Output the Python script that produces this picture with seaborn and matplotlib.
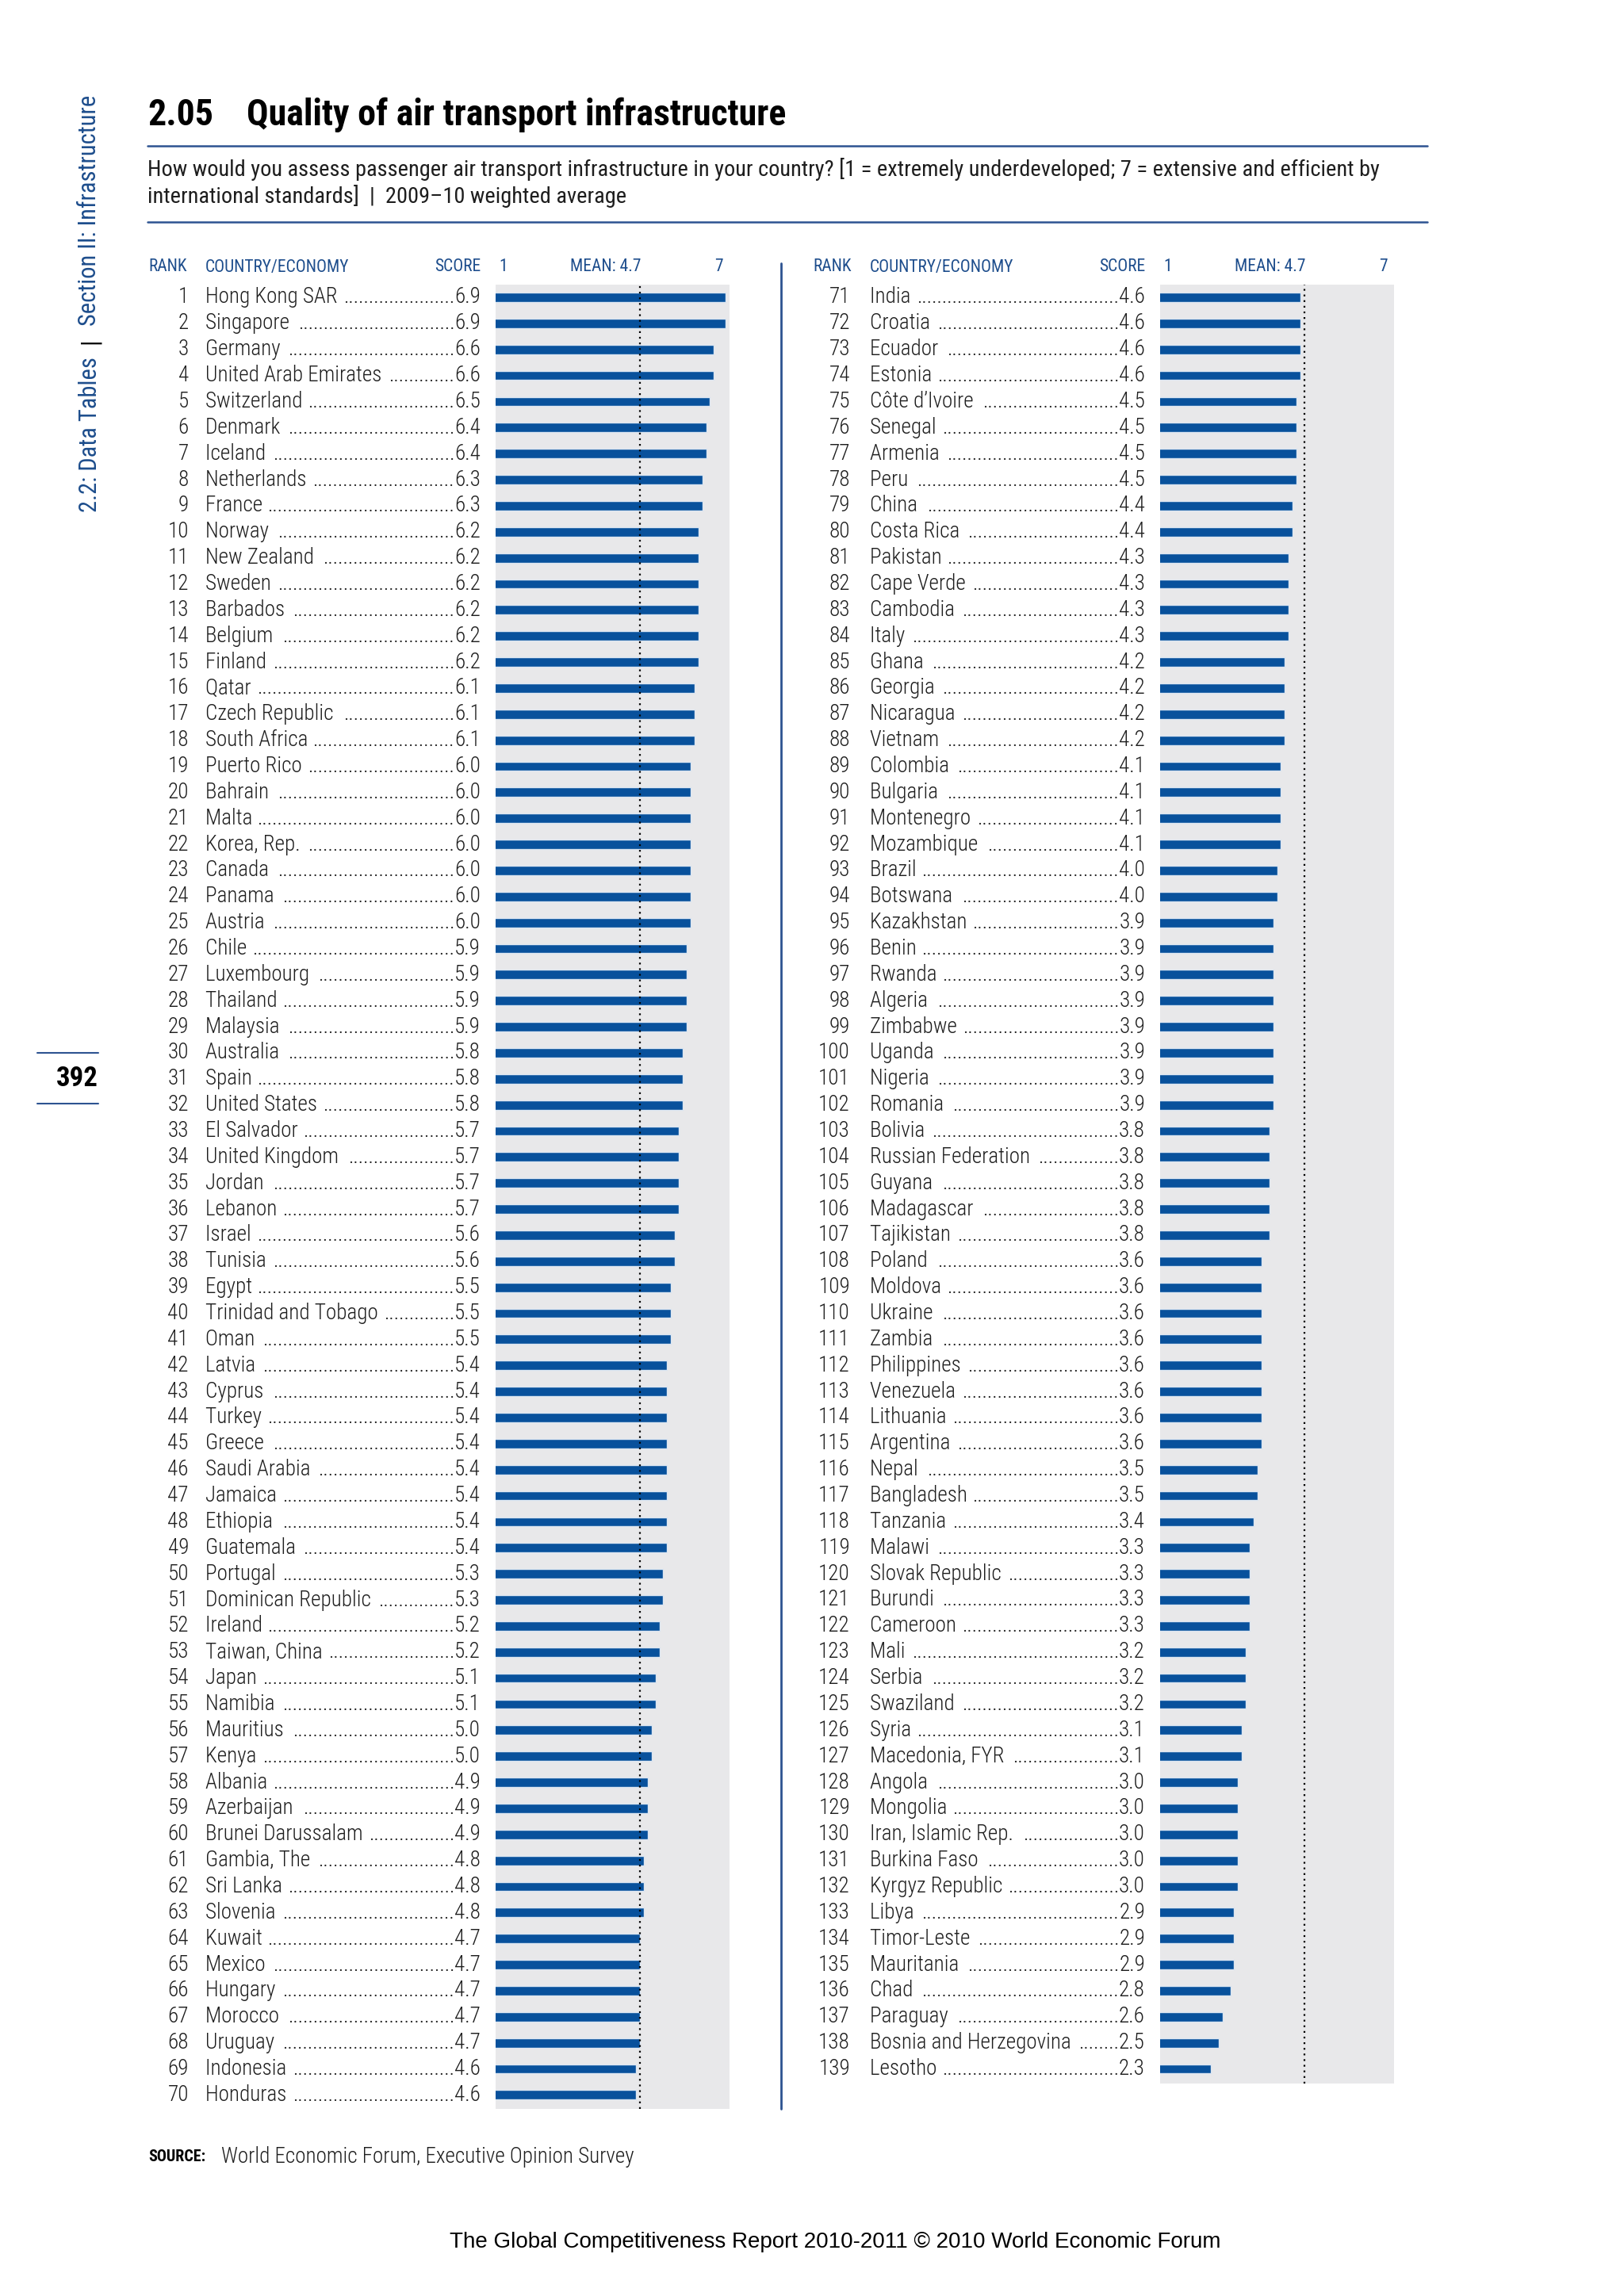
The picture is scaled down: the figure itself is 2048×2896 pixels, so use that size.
import matplotlib
matplotlib.use("Agg")
import matplotlib.pyplot as plt
import matplotlib.transforms as mtransforms
from matplotlib import font_manager
from matplotlib.lines import Line2D
import seaborn as sns
import pandas as pd

# ---- data -------------------------------------------------------------
left_countries = [
    "Hong Kong SAR", "Singapore", "Germany", "United Arab Emirates", "Switzerland",
    "Denmark", "Iceland", "Netherlands", "France", "Norway", "New Zealand", "Sweden",
    "Barbados", "Belgium", "Finland", "Qatar", "Czech Republic", "South Africa",
    "Puerto Rico", "Bahrain", "Malta", "Korea, Rep.", "Canada", "Panama", "Austria",
    "Chile", "Luxembourg", "Thailand", "Malaysia", "Australia", "Spain",
    "United States", "El Salvador", "United Kingdom", "Jordan", "Lebanon", "Israel",
    "Tunisia", "Egypt", "Trinidad and Tobago", "Oman", "Latvia", "Cyprus", "Turkey",
    "Greece", "Saudi Arabia", "Jamaica", "Ethiopia", "Guatemala", "Portugal",
    "Dominican Republic", "Ireland", "Taiwan, China", "Japan", "Namibia", "Mauritius",
    "Kenya", "Albania", "Azerbaijan", "Brunei Darussalam", "Gambia, The", "Sri Lanka",
    "Slovenia", "Kuwait", "Mexico", "Hungary", "Morocco", "Uruguay", "Indonesia",
    "Honduras",
]
left_scores = [
    6.9, 6.9, 6.6, 6.6, 6.5, 6.4, 6.4, 6.3, 6.3, 6.2, 6.2, 6.2, 6.2, 6.2, 6.2,
    6.1, 6.1, 6.1, 6.0, 6.0, 6.0, 6.0, 6.0, 6.0, 6.0, 5.9, 5.9, 5.9, 5.9, 5.8,
    5.8, 5.8, 5.7, 5.7, 5.7, 5.7, 5.6, 5.6, 5.5, 5.5, 5.5, 5.4, 5.4, 5.4, 5.4,
    5.4, 5.4, 5.4, 5.4, 5.3, 5.3, 5.2, 5.2, 5.1, 5.1, 5.0, 5.0, 4.9, 4.9, 4.9,
    4.8, 4.8, 4.8, 4.7, 4.7, 4.7, 4.7, 4.7, 4.6, 4.6,
]
right_countries = [
    "India", "Croatia", "Ecuador", "Estonia", "C\u00f4te d\u2019Ivoire", "Senegal",
    "Armenia", "Peru", "China", "Costa Rica", "Pakistan", "Cape Verde", "Cambodia",
    "Italy", "Ghana", "Georgia", "Nicaragua", "Vietnam", "Colombia", "Bulgaria",
    "Montenegro", "Mozambique", "Brazil", "Botswana", "Kazakhstan", "Benin", "Rwanda",
    "Algeria", "Zimbabwe", "Uganda", "Nigeria", "Romania", "Bolivia",
    "Russian Federation", "Guyana", "Madagascar", "Tajikistan", "Poland", "Moldova",
    "Ukraine", "Zambia", "Philippines", "Venezuela", "Lithuania", "Argentina", "Nepal",
    "Bangladesh", "Tanzania", "Malawi", "Slovak Republic", "Burundi", "Cameroon",
    "Mali", "Serbia", "Swaziland", "Syria", "Macedonia, FYR", "Angola", "Mongolia",
    "Iran, Islamic Rep.", "Burkina Faso", "Kyrgyz Republic", "Libya", "Timor-Leste",
    "Mauritania", "Chad", "Paraguay", "Bosnia and Herzegovina", "Lesotho",
]
right_scores = [
    4.6, 4.6, 4.6, 4.6, 4.5, 4.5, 4.5, 4.5, 4.4, 4.4, 4.3, 4.3, 4.3, 4.3, 4.2,
    4.2, 4.2, 4.2, 4.1, 4.1, 4.1, 4.1, 4.0, 4.0, 3.9, 3.9, 3.9, 3.9, 3.9, 3.9,
    3.9, 3.9, 3.8, 3.8, 3.8, 3.8, 3.8, 3.6, 3.6, 3.6, 3.6, 3.6, 3.6, 3.6, 3.6,
    3.5, 3.5, 3.4, 3.3, 3.3, 3.3, 3.3, 3.2, 3.2, 3.2, 3.1, 3.1, 3.0, 3.0, 3.0,
    3.0, 3.0, 2.9, 2.9, 2.9, 2.8, 2.6, 2.5, 2.3,
]
left_ranks = list(range(1, 71))
right_ranks = list(range(71, 140))
mean_score = 4.7

# ---- style ------------------------------------------------------------
sns.set_style("white")
installed = {f.name for f in font_manager.fontManager.ttflist}
COND = next((f for f in ["Roboto Condensed", "Archivo Narrow", "PT Sans Narrow",
                         "Fira Sans Condensed", "DejaVu Sans"] if f in installed))
ARIAL = next((f for f in ["Liberation Sans", "Arimo", "DejaVu Sans"] if f in installed))
plt.rcParams["font.family"] = [COND, "DejaVu Sans"]

BLUE_TXT = "#1d4d8c"
LINE_BLUE = "#2d5391"
BAR_BLUE = "#08519c"
BG_GRAY = "#e8e8ea"
DARK = "#1e1e1e"

W, H = 2048, 2896
fig = plt.figure(figsize=(W / 100, H / 100), dpi=100)
fig.patch.set_facecolor("white")
renderer = fig.canvas.get_renderer()


def fx(x):
    return x / W


def fy(y):
    return 1 - y / H


ROW = 32.86
ROW0 = 375
FS_ROW = 19.5
FS_HEAD = 15.5


def hline(x0, x1, y, lw=1.8, color=LINE_BLUE):
    fig.add_artist(Line2D([fx(x0), fx(x1)], [fy(y), fy(y)],
                          transform=fig.transFigure, color=color, lw=lw))


# ---- header -----------------------------------------------------------
fig.text(fx(186), fy(158), "2.05", fontsize=33, fontweight="bold", color="black",
         va="baseline")
fig.text(fx(311), fy(158), "Quality of air transport infrastructure", fontsize=33,
         fontweight="bold", color="black", va="baseline")
hline(186, 1800, 184)
fig.text(fx(186), fy(213),
         "How would you assess passenger air transport infrastructure in your country? "
         "[1 = extremely underdeveloped; 7 = extensive and efficient by",
         fontsize=20.4, color=DARK, va="center")
fig.text(fx(186), fy(247),
         "international standards]  |  2009\u201310 weighted average",
         fontsize=20.4, color=DARK, va="center")
hline(186, 1800, 280)

# side tab text, stacked from the bottom upward
y_cur = 1 - 646 / H
for piece, col in [("2.2: Data Tables", BLUE_TXT), ("|", "black"),
                   ("Section II: Infrastructure", BLUE_TXT)]:
    t = fig.text(fx(113), y_cur, piece, fontsize=22, color=col, rotation=90,
                 ha="center", va="bottom")
    bb = t.get_window_extent(renderer)
    y_cur = (bb.y1 + 16) / H

# page number
hline(47, 124, 1328, lw=1.5)
hline(47, 124, 1392, lw=1.5)
fig.text(fx(124), fy(1361), "392", fontsize=25, fontweight="bold", color="black",
         ha="right", va="center")


# ---- panels -----------------------------------------------------------
def panel(x_bar0, x_bar1, x_rank_l, x_rank_r, x_name, x_score, names, scores, ranks,
          bottom_pad=0.55):
    n = len(names)
    ylo, yhi = -0.5, n - 1 + bottom_pad
    top_px = ROW0 + ylo * ROW
    height_px = (yhi - ylo) * ROW
    ax = fig.add_axes([fx(x_bar0), fy(top_px + height_px),
                       (x_bar1 - x_bar0) / W, height_px / H])
    df = pd.DataFrame({"country": names, "score": scores})
    sns.barplot(data=df, x="score", y="country", orient="h", color=BAR_BLUE,
                saturation=1, width=0.36, errorbar=None, edgecolor="#dce6f2",
                linewidth=1.0, ax=ax)
    ax.axvline(mean_score, color="black", linestyle=(0, (1, 2.2)), lw=1.6)
    ax.set_xlim(1, 7)
    ax.set_ylim(yhi, ylo)
    ax.set_facecolor(BG_GRAY)
    ax.set_xticks([])
    ax.set_yticks([])
    ax.set_xlabel("")
    ax.set_ylabel("")
    sns.despine(ax=ax, left=True, bottom=True)

    trans = mtransforms.blended_transform_factory(fig.transFigure, ax.transData)
    # column headers
    hy = fy(337)
    kw = dict(fontsize=FS_HEAD, color=BLUE_TXT, va="center")
    fig.text(fx(x_rank_l), hy, "RANK", **kw)
    fig.text(fx(x_name), hy, "COUNTRY/ECONOMY", **kw)
    fig.text(fx(x_score), hy, "SCORE", ha="right", **kw)
    fig.text(fx(x_bar0 + 4), hy, "1", **kw)
    mean_x = x_bar0 + (mean_score - 1) / 6 * (x_bar1 - x_bar0)
    fig.text(fx(mean_x + 2), hy, "MEAN: 4.7", ha="right", **kw)
    fig.text(fx(x_bar1 - 8), hy, "7", ha="right", **kw)

    probe = fig.text(0, 0, "." * 40, fontsize=FS_ROW, fontweight="light")
    dot_w = probe.get_window_extent(renderer).width / 40
    probe.remove()
    rk = dict(transform=trans, fontsize=FS_ROW, color=DARK, va="center",
              fontweight="light")
    for i, (nm, sc, r) in enumerate(zip(names, scores, ranks)):
        fig.text(fx(x_rank_r), i, str(r), ha="right", **rk)
        t_name = fig.text(fx(x_name), i, nm + " ", **rk)
        t_score = fig.text(fx(x_score), i, f"{sc:.1f}", ha="right", **rk)
        x_end = t_name.get_window_extent(renderer).x1
        x_sc = t_score.get_window_extent(renderer).x0
        ndots = max(int((x_sc - x_end) / dot_w), 0)
        fig.text(x_sc / W, i, "." * ndots, ha="right", **rk)
    return ax


panel(625, 920, 187, 238, 259, 606, left_countries, left_scores, left_ranks)
panel(1463, 1758, 1025, 1072, 1097, 1444, right_countries, right_scores, right_ranks)

# separator between the two columns
fig.add_artist(Line2D([fx(985), fx(985)], [fy(332), fy(2660)],
                      transform=fig.transFigure, color=LINE_BLUE, lw=2))

# ---- source and footer ------------------------------------------------
fig.text(fx(187), fy(2720), "SOURCE:", fontsize=14.5, fontweight="bold",
         color="black", va="center")
fig.text(fx(279), fy(2720), "World Economic Forum, Executive Opinion Survey",
         fontsize=19.5, color=DARK, va="center", fontweight="light")
fig.text(fx(1053), fy(2828),
         "The Global Competitiveness Report 2010-2011 \u00a9 2010 World Economic Forum",
         fontsize=20, color="black", ha="center", va="center",
         family=[ARIAL, "DejaVu Sans"])

fig.savefig("out.png", dpi=100)
